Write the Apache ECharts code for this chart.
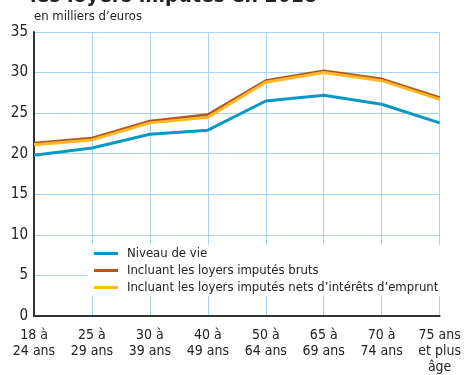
<!DOCTYPE html>
<html>
<head>
<meta charset="utf-8">
<script src="https://cdn.jsdelivr.net/npm/echarts@6/dist/echarts.min.js"></script>
<style>
  html, body { margin: 0; padding: 0; background: #fff; }
  #chart { width: 464px; height: 375px; }
</style>
</head>
<body>
<div id="chart"></div>
<script>
// Age groups (x axis)
const categories = [
  '18 à\n24 ans', '25 à\n29 ans', '30 à\n39 ans', '40 à\n49 ans',
  '50 à\n64 ans', '65 à\n69 ans', '70 à\n74 ans', '75 ans\net plus\nâge'
];
// Average standard of living, thousands of euros
const niveauDeVie = [19.8, 20.7, 22.4, 22.9, 26.5, 27.2, 26.1, 23.8];
const loyersBruts = [21.3, 21.9, 24.0, 24.8, 29.0, 30.2, 29.2, 26.9];
const loyersNets  = [21.1, 21.7, 23.8, 24.5, 28.8, 30.0, 29.0, 26.7];
const seriesNames = [
  'Niveau de vie',
  'Incluant les loyers imputés bruts',
  'Incluant les loyers imputés nets d\u2019intérêts d\u2019emprunt'
];
const yTicks = { min: 0, max: 35, interval: 5 };

const FONT = '"DejaVu Sans Condensed", "Liberation Sans", sans-serif';
const GRID_COLOR = '#a9d4f0';

const chart = echarts.init(document.getElementById('chart'), null, { renderer: 'canvas' });

chart.setOption({
  animation: false,
  backgroundColor: '#fff',
  textStyle: { fontFamily: FONT },
  grid: { left: 34, right: 16, top: 32, bottom: 55, containLabel: false },
  graphic: [
    {
      type: 'text', left: 30, top: -14, z: 10,
      style: {
        text: 'les loyers imputés en 2018',
        fontFamily: FONT, fontSize: 21, fontWeight: 'bold', fill: '#222'
      }
    },
    {
      type: 'text', left: 34, top: 10, z: 10,
      style: { text: 'en milliers d\u2019euros', fontFamily: FONT, fontSize: 13, fill: '#222' }
    }
  ],
  legend: {
    orient: 'vertical',
    left: 87, top: 245,
    padding: [2, 8, 2, 7],
    backgroundColor: '#fff',
    itemWidth: 24, itemHeight: 3, itemGap: 4,
    icon: 'rect',
    textStyle: { fontFamily: FONT, fontSize: 13, lineHeight: 13, color: '#222', padding: [0, 0, 0, 4] },
    data: seriesNames
  },
  xAxis: {
    type: 'category',
    data: categories,
    boundaryGap: false,
    axisLine: { show: true, lineStyle: { color: '#333', width: 2 } },
    axisTick: { show: false },
    splitLine: { show: true, lineStyle: { color: GRID_COLOR, width: 1 } },
    axisLabel: {
      interval: 0, margin: 11, color: '#222',
      fontFamily: FONT, fontSize: 14, lineHeight: 16
    }
  },
  yAxis: {
    type: 'value',
    min: yTicks.min, max: yTicks.max, interval: yTicks.interval,
    axisLine: { show: true, lineStyle: { color: '#333', width: 2 } },
    axisTick: { show: false },
    splitLine: { show: true, lineStyle: { color: GRID_COLOR, width: 1 } },
    axisLabel: { margin: 6, color: '#222', fontFamily: FONT, fontSize: 15 }
  },
  series: [
    {
      name: seriesNames[0], type: 'line', data: niveauDeVie,
      symbol: 'none', color: '#0a97c4',
      lineStyle: { width: 3, color: '#0a97c4' }, z: 3
    },
    {
      name: seriesNames[1], type: 'line', data: loyersBruts,
      symbol: 'none', color: '#b4561c',
      lineStyle: { width: 3, color: '#b4561c' }, z: 3
    },
    {
      name: seriesNames[2], type: 'line', data: loyersNets,
      symbol: 'none', color: '#fcb823',
      lineStyle: { width: 3, color: '#fcb823' }, z: 4
    }
  ]
});
</script>
</body>
</html>
